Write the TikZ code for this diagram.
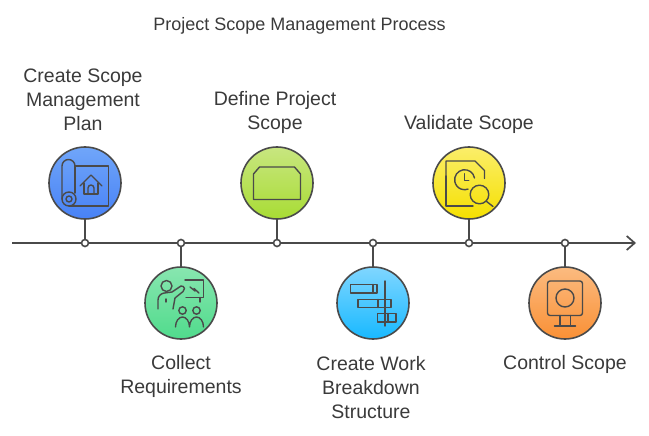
\documentclass[tikz,border=0pt]{standalone}
\usepackage{fontspec}
\setmainfont{Liberation Sans}
\usepackage{xcolor}
\usetikzlibrary{arrows.meta}
\definecolor{linegray}{HTML}{4A4A4A}
\definecolor{textgray}{HTML}{3A3A3A}
\definecolor{bluetop}{HTML}{70A6F9}
\definecolor{bluebot}{HTML}{4882F6}
\definecolor{greentop}{HTML}{88E6B0}
\definecolor{greenbot}{HTML}{50DB8C}
\definecolor{limetop}{HTML}{C8E680}
\definecolor{limebot}{HTML}{A8DC34}
\definecolor{cyantop}{HTML}{80D6FF}
\definecolor{cyanbot}{HTML}{18B9FF}
\definecolor{yellowtop}{HTML}{FBEE6A}
\definecolor{yellowbot}{HTML}{F5E000}
\definecolor{orangetop}{HTML}{FBBB80}
\definecolor{orangebot}{HTML}{FA9035}
\tikzset{
  stepcircle/.style={circle,draw=linegray,line width=1.6pt,minimum size=72pt,inner sep=0pt},
  axisdot/.style={circle,draw=linegray,fill=white,line width=1.6pt,minimum size=7pt,inner sep=0pt},
  steplabel/.style={align=center,text=textgray,font=\fontsize{19.5}{24}\selectfont,inner sep=0pt},
  titlelabel/.style={text=textgray,font=\fontsize{18}{24}\selectfont,inner sep=0pt},
  iconline/.style={draw=linegray,line width=1.4pt,line join=round,line cap=round},
  stem/.style={draw=linegray,line width=1.7pt}
}
\begin{document}
\begin{tikzpicture}[x=1pt,y=-1pt]
\useasboundingbox (0,0) rectangle (649,436);

\node [titlelabel] (title) at (299.5,25.5) {Project Scope Management Process};

\node [stepcircle,top color=bluetop,bottom color=bluebot] (scopeplan) at (85,183) {};
\node [stepcircle,top color=greentop,bottom color=greenbot] (collect) at (181,303) {};
\node [stepcircle,top color=limetop,bottom color=limebot] (define) at (277,183) {};
\node [stepcircle,top color=cyantop,bottom color=cyanbot] (wbs) at (373,303) {};
\node [stepcircle,top color=yellowtop,bottom color=yellowbot] (validate) at (469,183) {};
\node [stepcircle,top color=orangetop,bottom color=orangebot] (control) at (565,303) {};

\coordinate (axisstart) at (12,243);
\coordinate (axisend) at (636,243);
\draw [stem,-{Straight Barb[length=8pt,width=14pt]}] (axisstart) to (axisend);

\node [axisdot] (dota) at (85,243) {};
\node [axisdot] (dotb) at (181,243) {};
\node [axisdot] (dotc) at (277,243) {};
\node [axisdot] (dotd) at (373,243) {};
\node [axisdot] (dote) at (469,243) {};
\node [axisdot] (dotf) at (565,243) {};

\draw [stem] (scopeplan) to (dota);
\draw [stem] (collect) to (dotb);
\draw [stem] (define) to (dotc);
\draw [stem] (wbs) to (dotd);
\draw [stem] (validate) to (dote);
\draw [stem] (control) to (dotf);

\node [steplabel] (scopeplantext) at (83,100) {Create Scope\\Management\\Plan};
\node [steplabel] (definetext) at (275,112) {Define Project\\Scope};
\node [steplabel] (validatetext) at (469,124.5) {Validate Scope};
\node [steplabel] (collecttext) at (181,376.5) {Collect\\Requirements};
\node [steplabel] (wbstext) at (371,388) {Create Work\\Breakdown\\Structure};
\node [steplabel] (controltext) at (565,364.5) {Control Scope};

\begin{scope}[shift={(85,183)},iconline]
\draw  (-10,-17) arc (0:-180:6.5) -- (-23,16);
\draw  (-10,-17) -- (-10,10);
\draw  (-10,-17) -- (23.5,-17) -- (23.5,23) -- (-16,23);
\draw  (-16,16) circle (7);
\draw  (-16,16) circle (3);
\draw  (-5,3) -- (6,-8) -- (17,3);
\draw  (-1,0) -- (-1,11) -- (13,11) -- (13,0);
\draw  (3,11) -- (3,5) arc (180:360:3) -- (9,11);
\end{scope}

\begin{scope}[shift={(181,303)},iconline]
\draw  (-14.5,-17) circle (5.5);
\draw  (-23,6) -- (-23,-3) arc (180:260:7) -- (-9,-11) -- (0,-17) arc (-100:60:3) -- (-6,-5) -- (-8,6);
\draw  (-15,-4) -- (-15,-1);
\draw  (4,-23) -- (22.5,-23) -- (22.5,-5.5) -- (5,-5.5);
\draw  (9,-16) -- (14,-12) -- (13,-14.5) -- (18,-10);
\draw  (19,-5.5) -- (19,-1);
\draw  (1.5,7.5) circle (3.7);
\draw  (15.5,7.5) circle (3.7);
\draw  (-5.5,24) arc [start angle=180,end angle=360,x radius=7,y radius=10] arc [start angle=180,end angle=360,x radius=7,y radius=10];
\end{scope}

\begin{scope}[shift={(277,183)},iconline]
\draw  (-23.5,16.5) -- (-23.5,-9) -- (-17.5,-16) -- (17.5,-16) -- (23.5,-9) -- (23.5,16.5) -- cycle;
\end{scope}

\begin{scope}[shift={(373,303)},iconline]
\draw  (-22.5,-18.5) rectangle (4,-10);
\draw  (0,-18.5) -- (0,-10);
\draw  (12,-22) -- (12,23);
\draw  (-15,-3.5) rectangle (18,4.5);
\draw  (5,-3.5) -- (5,4.5);
\draw  (4.5,10.5) rectangle (23,19);
\draw  (15,10.5) -- (15,19);
\end{scope}

\begin{scope}[shift={(469,183)},iconline]
\draw  (-23,-7) -- (-23,-22) -- (6,-22) -- (15.5,-12.5) -- (15.5,-4.5);
\draw  (-23,-7) -- (-23,23) -- (4,23);
\draw  (-4.3,-9.3) -- (-4.3,-2.7) -- (-0.3,-2.7);
\draw  (5.5,-5) arc (-10:-290:10);
\draw  (10.5,11.5) circle (9.3);
\draw  (17,18) -- (24,23.5);
\end{scope}

\begin{scope}[shift={(565,303)},iconline]
\draw [rounded corners=2.5pt] (-17.5,-22) rectangle (17.5,12.5);
\draw  (0,-5) circle (9);
\draw  (-5,12.5) -- (-5,23);
\draw  (5.5,12.5) -- (5.5,23);
\draw  (-10.5,23) -- (10.5,23);
\end{scope}

\end{tikzpicture}
\end{document}
